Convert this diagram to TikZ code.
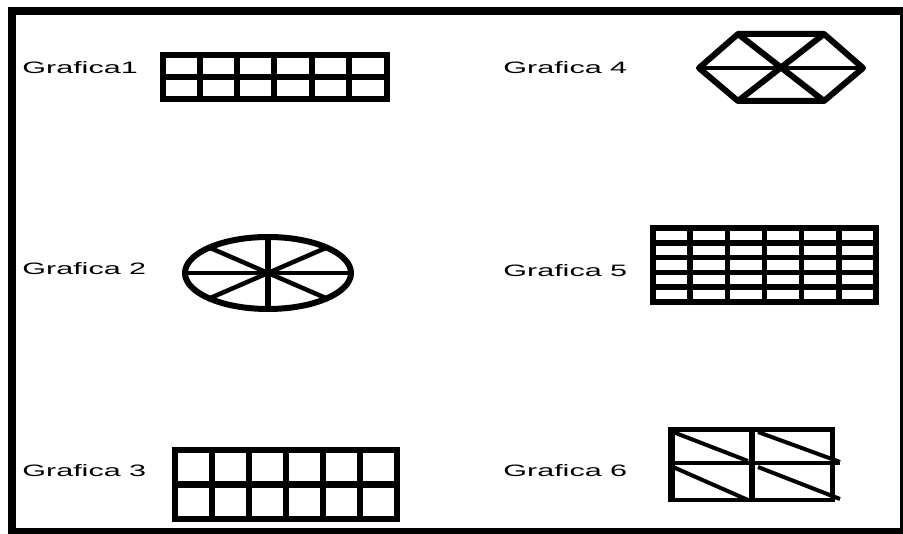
\documentclass[tikz,border=0pt]{standalone}
\usepackage{fontspec}
\setmainfont{Liberation Sans}
\usetikzlibrary{positioning}

\begin{document}
\begin{tikzpicture}[
  x=1pt, y=-1pt,
  caption/.style={anchor=west, inner sep=0pt, font=\fontsize{16.5}{18}\selectfont, xscale=1.85},
  thickline/.style={draw, line width=6pt},
  thinline/.style={draw, line width=4.5pt}
]
  \useasboundingbox (0,0) rectangle (903,534);
  % frame
  \draw[line width=8pt] (12,11) rectangle (904,532);

  % labels
  \node[caption] (g1) at (22,68) {Grafica1};
  \node[caption] (g2) at (22,269) {Grafica 2};
  \node[caption] (g3) at (22,471) {Grafica 3};
  \node[caption] (g4) at (503,68) {Grafica 4};
  \node[caption] (g5) at (503,271) {Grafica 5};
  \node[caption] (g6) at (503,471) {Grafica 6};

  % Grafica 1: 6 x 2 grid
  \draw[thickline] (162.5,55.5) rectangle (386.5,99.5);
  \foreach \i in {1,...,5}
    \draw[thickline] (162.5+37.33*\i,55.5) -- (162.5+37.33*\i,99.5);
  \draw[thickline] (162.5,77.5) -- (386.5,77.5);

  % Grafica 2: wheel
  \draw[thickline] (268,273) ellipse [x radius=83, y radius=36];
  \foreach \a in {0,45,...,315}
    \draw[thinline] (268,273) -- ({268+83*cos(\a)},{273+36*sin(\a)});
  \draw[thickline] (268,237) -- (268,309);

  % Grafica 3: 6 x 2 grid
  \draw[line width=6.5pt] (175,450) rectangle (397,519);
  \foreach \i in {1,...,5}
    \draw[line width=6.5pt] (175+37*\i,450) -- (175+37*\i,519);
  \draw[line width=6.5pt] (175,484.5) -- (397,484.5);

  % Grafica 4: hexagon
  \draw[thickline, line join=round] (699,68) -- (738,34) -- (824,34) -- (863,68)
    -- (824,101) -- (738,101) -- cycle;
  \draw[thickline] (738,34) -- (824,101);
  \draw[thickline] (824,34) -- (738,101);
  \draw[thinline] (699,68) -- (863,68);

  % Grafica 5: 6 x 5 grid
  \draw[line width=6.5pt] (653,228) rectangle (876,302);
  \foreach \i in {1,...,5}
    \draw[line width=5.5pt] (653+37.17*\i,228) -- (653+37.17*\i,302);
  \foreach \j in {1,...,4}
    \draw[line width=5.5pt] (653,228+14.8*\j) -- (876,228+14.8*\j);

  % Grafica 6: 2 x 2 grid with diagonals
  \draw[thinline] (671,429.5) rectangle (832.5,500);
  \draw[line width=7pt] (671.5,427) -- (671.5,502);
  \draw[line width=6pt] (752,429.5) -- (752,500);
  \draw[line width=4pt] (671,463.5) -- (840,463.5);
  \draw[line width=4pt] (673,432) -- (748,461);
  \draw[line width=4pt] (758,432) -- (840,462);
  \draw[line width=4pt] (673,467) -- (748,500);
  \draw[line width=4pt] (758,467) -- (840,499);
\end{tikzpicture}
\end{document}
